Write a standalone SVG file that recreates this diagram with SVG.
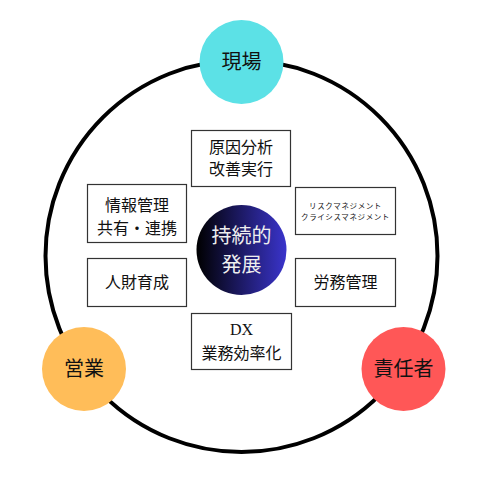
<svg xmlns="http://www.w3.org/2000/svg" width="500" height="500" viewBox="0 0 500 500">
<defs>
<linearGradient id="g" x1="0" y1="0" x2="1" y2="0">
<stop offset="0" stop-color="#000000"/>
<stop offset="1" stop-color="#3a34cc"/>
</linearGradient>
<style>
text{font-family:"Liberation Serif","Noto Sans CJK JP",serif;fill:#111;text-anchor:middle;dominant-baseline:central}
.box{fill:#fff;stroke:#333;stroke-width:1.2}
.t{font-size:16px}
.s{font-size:7.5px;letter-spacing:0.6px}
.c{font-size:20px}
</style>
</defs>
<rect width="500" height="500" fill="#fff"/>
<g id="ring">
<circle cx="241.5" cy="256" r="196" fill="none" stroke="#000" stroke-width="4"/>
</g>
<g id="genba"><circle cx="241.5" cy="62" r="42" fill="#5ce1e6"/><text class="c" x="241.5" y="62">現場</text></g>
<g id="eigyo"><circle cx="84" cy="369" r="42" fill="#ffbd59"/><text class="c" x="84" y="369">営業</text></g>
<g id="sekininsha"><circle cx="403.5" cy="369" r="42" fill="#ff5757"/><text class="c" x="403.5" y="369">責任者</text></g>
<g id="center"><circle cx="241.5" cy="250" r="45" fill="url(#g)"/><text class="c" x="241.5" y="236" style="fill:#eee">持続的</text><text class="c" x="241.5" y="265" style="fill:#eee">発展</text></g>
<g id="b1"><rect class="box" x="191.5" y="130.5" width="99" height="56"/><text class="t" x="241" y="147">原因分析</text><text class="t" x="241" y="169">改善実行</text></g>
<g id="b2"><rect class="box" x="87.5" y="184.5" width="99" height="58"/><text class="t" x="137" y="205">情報管理</text><text class="t" x="137" y="228">共有・連携</text></g>
<g id="b3"><rect class="box" x="295.5" y="187.5" width="100" height="47"/><text class="s" x="345.5" y="206">リスクマネジメント</text><text class="s" x="345.5" y="217">クライシスマネジメント</text></g>
<g id="b4"><rect class="box" x="87.5" y="258.5" width="99" height="48"/><text class="t" x="137" y="282">人財育成</text></g>
<g id="b5"><rect class="box" x="295.5" y="258.5" width="100" height="48"/><text class="t" x="345.5" y="282">労務管理</text></g>
<g id="b6"><rect class="box" x="191.5" y="313.5" width="100" height="56"/><text class="t" x="241.5" y="329">DX</text><text class="t" x="241.5" y="353">業務効率化</text></g>
<g id="connectors"></g>
</svg>
